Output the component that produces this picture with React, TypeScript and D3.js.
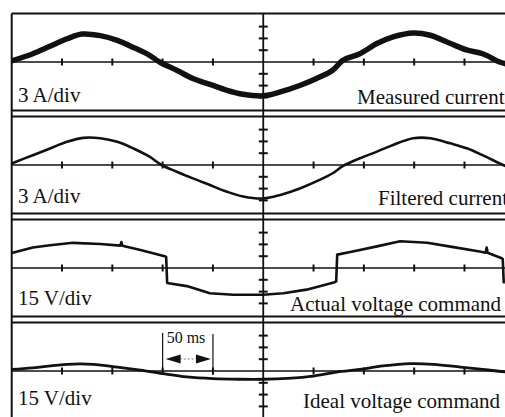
import React, { useEffect, useRef } from "react";
import * as d3 from "d3";

const WIDTH = 505;
const HEIGHT = 417;

// scope settings, one per trace
const scaleLabels = ["3 A/div", "3 A/div", "15 V/div", "15 V/div"];
const traceNames = ["Measured current", "Filtered current", "Actual voltage command", "Ideal voltage command"];
const unitsPerDiv = [3, 3, 15, 15];
const timeTicks = [50, 100, 150, 200, 300, 350, 400, 450]; // ms
const divTicks = [-3, -2, -1, 1, 2, 3];

// trace 1: measured current (A)
const measuredT = [0, 21, 38, 55, 70, 88, 105, 121, 137, 147, 164, 180, 197, 214, 230, 250, 267, 287, 303, 319, 329, 346, 363, 379, 399, 416, 436, 453, 468, 485, 495, 510];
const measuredI = [0.3, 2.1, 4.0, 5.9, 7.1, 6.7, 5.5, 3.7, 1.7, 0, -2.1, -4.2, -5.7, -7.2, -8.2, -8.6, -7.6, -5.9, -4.2, -2.1, 0.4, 2.1, 4.7, 6.4, 7.4, 6.8, 4.7, 3.0, 2.1, 0, -0.8, -2.5];

// trace 2: filtered current (A)
const filteredT = [0, 21, 38, 55, 71, 88, 105, 121, 137, 149, 164, 180, 197, 214, 230, 250, 267, 287, 306, 319, 329, 346, 363, 379, 399, 416, 436, 453, 468, 485, 495, 510];
const filteredI = [0.4, 2.5, 4.2, 5.9, 6.9, 6.8, 5.9, 4.2, 2.1, 0, -1.7, -3.4, -5.1, -6.8, -8.0, -8.5, -7.6, -5.9, -3.8, -2.1, -0.3, 1.7, 3.4, 5.1, 6.8, 6.8, 5.5, 4.2, 2.5, 0.4, -0.8, -2.5];

// trace 3: actual voltage command (V)
const actualT = [0, 21, 38, 61, 88, 108, 109, 110, 128, 152, 153.5, 154.5, 174, 197, 220, 250, 270, 293, 321, 322.5, 323.5, 339, 363, 386, 413, 439, 465, 471, 472, 473, 487, 488, 489, 510];
const actualV = [19, 26, 29, 32, 30.5, 28.5, 33, 28.3, 23, 15, 14, -19, -23, -32, -34, -34, -32, -27.5, -18, -17, 17, 21, 27.5, 34, 32, 26.5, 21, 19.5, 26, 19.3, 12.5, 11.5, -18, -20];

// trace 4: ideal voltage command (V)
const idealT = [0, 21, 55, 81, 105, 128, 150, 174, 200, 227, 250, 274, 300, 323, 346, 369, 396, 419, 446, 468, 490, 510];
const idealV = [2, 4, 8.5, 8.5, 5, 1, -3.4, -7.6, -9.8, -10.5, -10.5, -9.3, -6.4, -1.3, 2, 6.4, 9.3, 8.5, 5, 2, -1, -3];

const traces = [
  { t: measuredT, v: measuredI, width: 5.5, curve: d3.curveCatmullRom.alpha(0.5) },
  { t: filteredT, v: filteredI, width: 2.6, curve: d3.curveCatmullRom.alpha(0.5) },
  { t: actualT, v: actualV, width: 2.6, curve: d3.curveLinear },
  { t: idealT, v: idealV, width: 2.8, curve: d3.curveCatmullRom.alpha(0.5) },
];

const centers = [62, 165, 268, 371];
const nameX = [357, 378, 290, 303];
const nameY = [104, 205, 311, 408];
const labelY = [102, 203, 305, 405];

const ScopeTraces = () => {
  const svgRef = useRef<SVGSVGElement>(null);

  useEffect(() => {
    const svg = d3.select(svgRef.current);
    svg.selectAll("*").remove();

    const ink = "#111";
    const font = "'Liberation Serif', 'Times New Roman', serif";
    const half = 48.5;
    const divPx = 11.8;

    const x = d3.scaleLinear().domain([0, 500]).range([11.7, 514.8]);
    const xMid = x(250);

    svg.append("rect").attr("width", WIDTH).attr("height", HEIGHT).attr("fill", "#fff");

    traces.forEach((tr, i) => {
      const c = centers[i];
      const upd = unitsPerDiv[i];
      const y = d3
        .scaleLinear()
        .domain([-4 * upd, 4 * upd])
        .range([c + 4 * divPx, c - 4 * divPx]);
      const g = svg.append("g");

      // box top and bottom
      [c - half, c + half].forEach((yy) => {
        g.append("line")
          .attr("x1", x(0))
          .attr("x2", x(500))
          .attr("y1", yy)
          .attr("y2", yy)
          .attr("stroke", ink)
          .attr("stroke-width", 1.8);
      });

      // zero line
      g.append("line")
        .attr("x1", x(0))
        .attr("x2", x(500))
        .attr("y1", y(0))
        .attr("y2", y(0))
        .attr("stroke", ink)
        .attr("stroke-width", 1.3);

      // division ticks on zero line
      g.selectAll(".xt")
        .data(timeTicks)
        .enter()
        .append("line")
        .attr("x1", (d) => x(d))
        .attr("x2", (d) => x(d))
        .attr("y1", y(0) - 3.5)
        .attr("y2", y(0) + 3.5)
        .attr("stroke", ink)
        .attr("stroke-width", 2);

      // division ticks on centre line
      g.selectAll(".yt")
        .data(divTicks)
        .enter()
        .append("line")
        .attr("x1", xMid - 4.5)
        .attr("x2", xMid + 4.5)
        .attr("y1", (d) => y(d * upd))
        .attr("y2", (d) => y(d * upd))
        .attr("stroke", ink)
        .attr("stroke-width", 2);

      // waveform
      const pts = tr.t.map((t, k) => [t, tr.v[k]] as [number, number]);
      const line = d3
        .line<[number, number]>()
        .x((d) => x(d[0]))
        .y((d) => y(d[1]))
        .curve(tr.curve);
      g.append("path")
        .datum(pts)
        .attr("fill", "none")
        .attr("stroke", ink)
        .attr("stroke-width", tr.width)
        .attr("stroke-linejoin", "round")
        .attr("d", line);

      // texts
      g.append("text")
        .attr("x", 18)
        .attr("y", labelY[i])
        .attr("font-family", font)
        .attr("font-size", 21)
        .attr("fill", ink)
        .text(scaleLabels[i]);
      g.append("text")
        .attr("x", nameX[i])
        .attr("y", nameY[i])
        .attr("font-family", font)
        .attr("font-size", 21)
        .attr("fill", ink)
        .text(traceNames[i]);
    });

    // left border and centre line
    svg.append("line")
      .attr("x1", x(0))
      .attr("x2", x(0))
      .attr("y1", centers[0] - half)
      .attr("y2", HEIGHT)
      .attr("stroke", ink)
      .attr("stroke-width", 2);
    svg.append("line")
      .attr("x1", xMid)
      .attr("x2", xMid)
      .attr("y1", centers[0] - half)
      .attr("y2", HEIGHT)
      .attr("stroke", ink)
      .attr("stroke-width", 1.8);

    // 50 ms marker in the last panel
    const mk = svg.append("g");
    const x0 = x(150);
    const x1 = x(200);
    mk.append("line").attr("x1", x0).attr("x2", x0).attr("y1", 333).attr("y2", 371)
      .attr("stroke", ink).attr("stroke-width", 1.2);
    mk.append("line").attr("x1", x1).attr("x2", x1).attr("y1", 334).attr("y2", 375)
      .attr("stroke", ink).attr("stroke-width", 1.2);
    mk.append("text")
      .attr("x", x0 + 4)
      .attr("y", 343)
      .attr("font-family", font)
      .attr("font-size", 16)
      .attr("fill", ink)
      .text("50 ms");
    const ay = 359;
    mk.append("line").attr("x1", x0 + 17).attr("x2", x1 - 16).attr("y1", ay).attr("y2", ay)
      .attr("stroke", "#777").attr("stroke-width", 1.2).attr("stroke-dasharray", "2,2");
    mk.append("path")
      .attr("d", `M${x0 + 3},${ay} L${x0 + 18},${ay - 4.5} L${x0 + 18},${ay + 4.5} Z`)
      .attr("fill", ink);
    mk.append("path")
      .attr("d", `M${x1 - 2},${ay} L${x1 - 17},${ay - 4.5} L${x1 - 17},${ay + 4.5} Z`)
      .attr("fill", ink);
  }, []);

  return (
    <svg
      ref={svgRef}
      width={WIDTH}
      height={HEIGHT}
      style={{ position: "absolute", left: 0, top: 0, display: "block" }}
    ></svg>
  );
};

export default function App() {
  return <ScopeTraces />;
}
